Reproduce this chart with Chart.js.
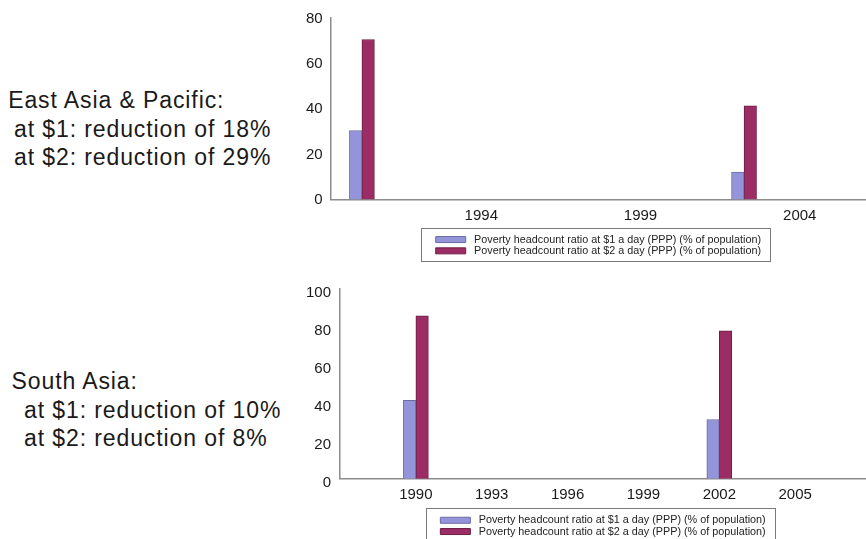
<!DOCTYPE html>
<html>
<head>
<meta charset="utf-8">
<script src="https://cdn.jsdelivr.net/npm/chart.js@4.4.0/dist/chart.umd.min.js"></script>
<style>
  body { margin: 0; width: 866px; height: 539px; overflow: hidden; background: #fff; position: relative;
         font-family: "Liberation Sans", Arial, sans-serif; color: #1a1a1a; }
  .note { position: absolute; font-size: 23px; letter-spacing: 0.9px; white-space: pre; }
  .box { position: absolute; left: 290px; width: 576px; }
</style>
</head>
<body>
<div id="note-eap"></div>
<div id="note-sa"></div>
<div class="box" style="top:0;height:270px"><canvas id="ch-eap"></canvas></div>
<div class="box" style="top:270px;height:281px"><canvas id="ch-sa"></canvas></div>
<script>
// series labels (legend)
const seriesNames = [
  'Poverty headcount ratio at $1 a day (PPP) (% of population)',
  'Poverty headcount ratio at $2 a day (PPP) (% of population)'
];

// East Asia & Pacific
const eapYears = [1990, 2002];
const eapDollar1 = [30.4, 12.1];
const eapDollar2 = [70.5, 41.3];
const eapTicks = [1994, 1999, 2004];
const eapNote = ['East Asia & Pacific:', 'at $1: reduction of 18%', 'at $2: reduction of 29%'];

// South Asia
const saYears = [1990, 2002];
const saDollar1 = [41.3, 31.2];
const saDollar2 = [85.8, 77.9];
const saTicks = [1990, 1993, 1996, 1999, 2002, 2005];
const saNote = ['South Asia:', 'at $1: reduction of 10%', 'at $2: reduction of 8%'];

const BLUE = '#9494DA', BLUE_EDGE = '#6C6CA0';
const RED = '#9C2D64', RED_EDGE = '#6B1D44';
const AXIS = '#8c8c8c', INK = '#1a1a1a';

function writeNote(id, lines, top, step, x0, x1) {
  const el = document.getElementById(id);
  el.innerHTML = lines.map((t, i) =>
    `<div class="note" style="top:${top + i * step}px;left:${i ? x1 : x0}px;line-height:${step}px"></div>`).join('');
  el.querySelectorAll('.note').forEach((d, i) => { d.textContent = lines[i]; });
}
writeNote('note-eap', eapNote, 86.3, 28.3, 8.2, 14);
writeNote('note-sa', saNote, 367.3, 28.5, 11.6, 24);

// frame round the legend, like the original
const legendFrame = {
  id: 'legendFrame',
  afterDraw(chart) {
    const hb = chart.legend.legendHitBoxes;
    if (!hb || !hb.length) return;
    const l = Math.min(...hb.map(b => b.left)) - 14.7;
    const r = Math.max(...hb.map(b => b.left + b.width)) + 9;
    const t = hb[0].top + hb[0].height / 2 - 12;
    const b = hb[hb.length - 1].top + hb[hb.length - 1].height / 2 + 10;
    const ctx = chart.ctx;
    ctx.save();
    ctx.strokeStyle = '#7a7a7a';
    ctx.lineWidth = 1;
    ctx.strokeRect(Math.round(l) + 0.5, Math.round(t) + 0.5, Math.round(r - l), Math.round(b - t));
    ctx.restore();
  }
};

function makeChart(id, cfg) {
  const pts = (xs, ys) => xs.map((x, i) => ({ x, y: ys[i] }));
  return new Chart(document.getElementById(id), {
    type: 'bar',
    data: {
      datasets: [
        { label: seriesNames[0], data: pts(cfg.years, cfg.d1), backgroundColor: BLUE, borderColor: BLUE_EDGE, borderWidth: 1 },
        { label: seriesNames[1], data: pts(cfg.years, cfg.d2), backgroundColor: RED, borderColor: RED_EDGE, borderWidth: 1 }
      ]
    },
    options: {
      responsive: true,
      maintainAspectRatio: false,
      animation: false,
      barThickness: 12.5,
      layout: { padding: { top: cfg.padTop, bottom: cfg.padBottom, left: 0, right: 0 } },
      scales: {
        x: {
          type: 'linear', offset: false, min: cfg.xMin, max: cfg.xMax,
          grid: { display: false, drawTicks: false },
          border: { display: true, color: AXIS, width: 1.5 },
          afterBuildTicks: s => { s.ticks = cfg.ticks.map(v => ({ value: v })); },
          afterFit: s => { s.height = cfg.xHeight; },
          ticks: { color: INK, font: { size: 15 }, padding: 7, labelOffset: cfg.labelOffset,
                   maxRotation: 0, autoSkip: false, callback: v => String(v) }
        },
        y: {
          min: 0, max: cfg.yMax,
          grid: { display: false, drawTicks: false },
          border: { display: true, color: AXIS, width: 1.5 },
          afterFit: s => { s.width = cfg.yWidth; },
          ticks: { stepSize: 20, color: INK, font: { size: 15 }, padding: cfg.yPad, labelOffset: cfg.yShift }
        }
      },
      plugins: {
        tooltip: { enabled: false },
        legend: {
          position: 'bottom',
          fullSize: false,
          labels: {
            boxWidth: 30, boxHeight: 6, padding: 0.5, color: '#222',
            font: { size: 10.8 },
            generateLabels: c => Chart.defaults.plugins.legend.labels.generateLabels(c)
              .map(l => ({ ...l, text: ' ' + l.text }))
          }
        }
      }
    },
    plugins: [legendFrame]
  });
}

Chart.defaults.font.family = '"Liberation Sans", Arial, sans-serif';

makeChart('ch-eap', {
  years: eapYears, d1: eapDollar1, d2: eapDollar2, ticks: eapTicks,
  xMin: 1989.02, xMax: 2005.83, yMax: 80, labelOffset: -8,
  padTop: 18, padBottom: 3.75, xHeight: 34.25, yWidth: 40.7, yPad: 8, yShift: 0.5
});
makeChart('ch-sa', {
  years: saYears, d1: saDollar1, d2: saDollar2, ticks: saTicks,
  xMin: 1987, xMax: 2007.8, yMax: 100, labelOffset: 0,
  padTop: 19, padBottom: 4.05, xHeight: 35.65, yWidth: 50, yPad: 9, yShift: 4
});
</script>
</body>
</html>
